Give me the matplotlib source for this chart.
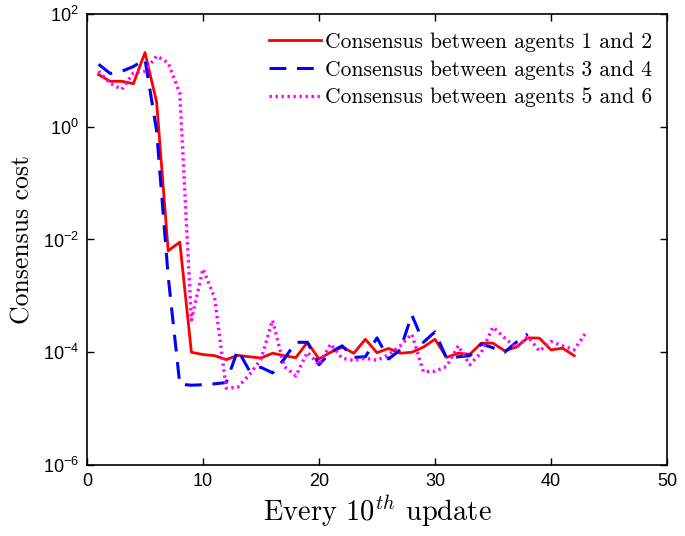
import matplotlib
matplotlib.use("Agg")
import matplotlib.pyplot as plt
import numpy as np

x_red = list(range(1, 43))
y_red = [8.4, 6.4, 6.4, 5.8, 20.7, 2.76, 0.0063, 0.009, 1.0e-4, 9.1e-5,
         8.7e-5, 7.4e-5, 8.8e-5, 8.3e-5, 7.9e-5, 9.6e-5, 8.7e-5, 8.0e-5, 1.5e-4, 7.6e-5,
         1.0e-4, 1.23e-4, 9.6e-5, 1.7e-4, 9.8e-5, 1.17e-4, 9.6e-5, 1.0e-4, 1.23e-4, 1.7e-4,
         8.1e-5, 9.6e-5, 9.2e-5, 1.45e-4, 1.45e-4, 1.06e-4, 1.23e-4, 1.8e-4, 1.78e-4, 1.1e-4,
         1.18e-4, 8.7e-5]

x_blue = list(range(1, 39))
y_blue = [12.8, 8.8, 9.6, 11.7, 15.7, 0.85, 0.0022, 2.7e-5, 2.6e-5, 2.65e-5,
          2.75e-5, 2.9e-5, 1.1e-4, 4.7e-5, 5.4e-5, 4.3e-5, 7.6e-5, 1.5e-4, 1.5e-4, 6.0e-5,
          1.0e-4, 1.3e-4, 8.1e-5, 8.3e-5, 1.8e-4, 7.6e-5, 1.1e-4, 4.6e-4, 1.5e-4, 2.3e-4,
          7.8e-5, 8.3e-5, 8.7e-5, 1.4e-4, 1.2e-4, 1.0e-4, 1.5e-4, 2.1e-4]

x_mag = list(range(1, 44))
y_mag = [9.7, 5.9, 4.6, 9.0, 9.7, 18.0, 13.6, 3.9, 3.7e-4, 3.0e-3,
         9.3e-4, 2.3e-5, 2.4e-5, 4.0e-5, 7.5e-5, 3.7e-4, 5.6e-5, 3.8e-5, 1.0e-4, 6.0e-5,
         1.4e-4, 7.8e-5, 7.2e-5, 7.8e-5, 7.2e-5, 9.0e-5, 1.3e-4, 2.1e-4, 4.5e-5, 4.6e-5,
         5.6e-5, 1.3e-4, 6.0e-5, 1.0e-4, 2.8e-4, 1.8e-4, 1.2e-4, 1.9e-4, 1.05e-4, 1.55e-4,
         1.3e-4, 1.1e-4, 2.2e-4]

labels = ["Consensus between agents 1 and 2",
          "Consensus between agents 3 and 4",
          "Consensus between agents 5 and 6"]

xticks = [0, 10, 20, 30, 40, 50]
yexps = [-6, -4, -2, 0, 2]

fig = plt.figure(figsize=(6.85, 5.36), dpi=100)
ax = fig.add_axes([0.127, 0.1325, 0.8467, 0.8414])

ax.plot(x_red, y_red, color="#ff0000", lw=2.0, ls="-", label=labels[0])
ax.plot(x_blue, y_blue, color="#0000ff", lw=2.2, ls=(0, (5.5, 3.5)), label=labels[1])
ax.plot(x_mag, y_mag, color="#ff00ff", lw=2.4, ls=(0, (0.7, 1.1)), label=labels[2])

ax.set_yscale("log")
ax.set_xlim(0, 50)
ax.set_ylim(1e-6, 1e2)
ax.set_xticks(xticks)
ax.set_xticklabels([str(t) for t in xticks], family="Liberation Sans", fontsize=13)
ax.set_yticks([10.0 ** e for e in yexps])
ax.set_yticklabels([r"$\mathregular{10^{%d}}$" % e for e in yexps],
                   family="Liberation Sans", fontsize=13)
ax.minorticks_off()
ax.tick_params(direction="in", length=5, width=1.0, top=True, right=True, pad=6)
for s in ax.spines.values():
    s.set_linewidth(1.2)

ax.set_xlabel(r"Every 10$^{th}$ update", family="cmr10", math_fontfamily="cm",
              fontsize=20.5, labelpad=2)
ax.set_ylabel("Consensus cost", family="cmr10", fontsize=18.5, labelpad=6)

leg = ax.legend(loc="upper right", bbox_to_anchor=(1.006, 1.0), frameon=False,
                prop={"family": "cmr10", "size": 15.5},
                handlelength=2.4, handletextpad=0.2, labelspacing=0.38,
                borderaxespad=0.45)

fig.savefig("out.png", dpi=100)
